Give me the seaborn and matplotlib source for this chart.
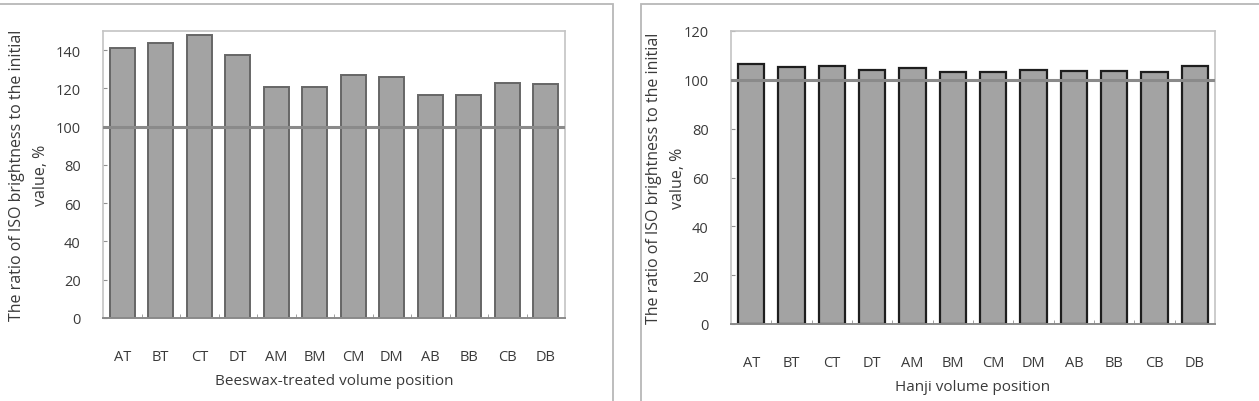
import seaborn as sns
import pandas as pd
import matplotlib.pyplot as plt
from matplotlib.patches import Rectangle
from matplotlib.ticker import FixedLocator

positions = ["AT", "BT", "CT", "DT", "AM", "BM", "CM", "DM", "AB", "BB", "CB", "DB"]
beeswax = [141.3, 143.9, 147.7, 137.2, 120.9, 120.9, 127.2, 126.1, 116.6, 116.6, 122.6, 122.2]
hanji = [106.6, 105.2, 105.6, 104.2, 104.8, 103.4, 103.4, 104.1, 103.7, 103.7, 103.4, 105.5]
ylabel = "The ratio of ISO brightness to the initial\nvalue, %"

sns.set_style("white")
plt.rcParams['font.family'] = ['Open Sans', 'DejaVu Sans']
txt = "#3a3a3a"

fig = plt.figure(figsize=(12.59, 4.02), dpi=100)

# outer boxes around each panel
fig.add_artist(Rectangle((-0.02, -0.05), 613 / 1259 + 0.02, 0.05 + 1 - 5 / 402,
                         transform=fig.transFigure, fill=False, ec="#b8b8b8", lw=1.3))
fig.add_artist(Rectangle((641 / 1259, -0.05), 0.6, 0.05 + 1 - 5 / 402,
                         transform=fig.transFigure, fill=False, ec="#b8b8b8", lw=1.3))

ax1 = fig.add_axes([103 / 1259, 1 - 319 / 402, 462 / 1259, 287 / 402])
ax2 = fig.add_axes([731 / 1259, 1 - 325 / 402, 484 / 1259, 293 / 402])

panels = [
    (ax1, beeswax, 150, "Beeswax-treated volume position", "#666666", 1.4, -0.16, -0.218),
    (ax2, hanji, 120, "Hanji volume position", "#1e1e1e", 1.6, -0.135, -0.215),
]

for ax, vals, ymax, xlab, edge, elw, ylx, xly in panels:
    df = pd.DataFrame({"position": positions, "value": vals})
    sns.barplot(data=df, x="position", y="value", order=positions, color="#a3a3a3",
                saturation=1, edgecolor=edge, linewidth=elw, width=0.65, ax=ax)
    ax.axhline(100, color="#8a8a8a", lw=2.2, zorder=5)
    ax.set_xlim(-0.5, 11.5)
    ax.set_ylim(0, ymax)
    ax.set_yticks(range(0, ymax if ymax == 150 else ymax + 1, 20))
    ax.xaxis.set_minor_locator(FixedLocator([i + 0.5 for i in range(11)]))
    ax.tick_params(axis="x", which="major", length=0, pad=22, labelsize=10.5, labelcolor=txt)
    ax.tick_params(axis="x", which="minor", length=3, direction="in", color="#909090", bottom=True)
    ax.tick_params(axis="y", length=3, direction="in", color="#909090", pad=16,
                   labelsize=10.5, labelcolor=txt, left=True)
    for s in ["top", "right", "left"]:
        ax.spines[s].set_color("#c4c4c4")
        ax.spines[s].set_linewidth(1.2)
    ax.spines["bottom"].set_color("#8a8a8a")
    ax.spines["bottom"].set_linewidth(1.4)
    ax.set_xlabel(xlab, fontsize=11, color=txt)
    ax.xaxis.label.set_va("center")
    ax.xaxis.set_label_coords(0.5, xly)
    ax.set_ylabel(ylabel, fontsize=11.5, color=txt, linespacing=1.65)
    ax.yaxis.label.set_va("center")
    ax.yaxis.set_label_coords(ylx, 0.5)

fig.savefig("out.png", dpi=100)
